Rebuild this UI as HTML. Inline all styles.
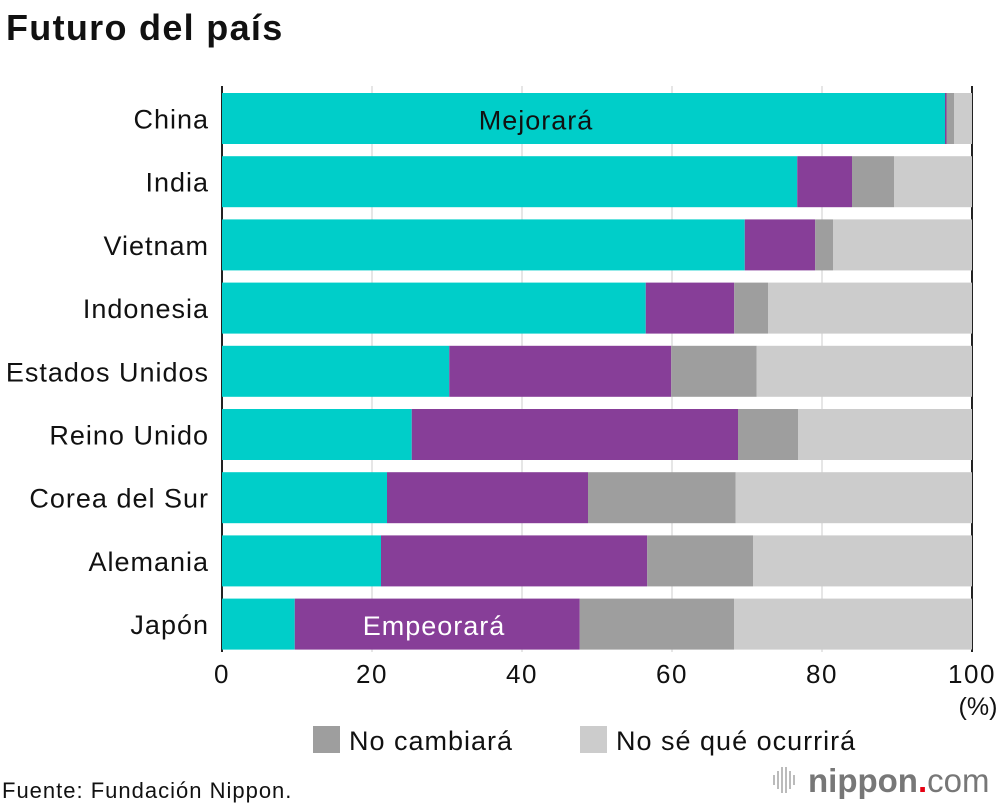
<!DOCTYPE html>
<html><head><meta charset="utf-8"><style>
body{margin:0;background:#fff;font-family:"Liberation Sans",sans-serif;}
#wrap{position:relative;width:1000px;height:810px;overflow:hidden;}
</style></head><body>
<div id="wrap">
<svg id="chart" width="1000" height="810"></svg>
</div>
<script>
const categories=["China","India","Vietnam","Indonesia","Estados Unidos","Reino Unido","Corea del Sur","Alemania","Japón"];
const mejorara=[96.4,76.7,69.7,56.5,30.3,25.3,22.0,21.2,9.7];
const empeorara=[0.2,7.3,9.4,11.8,29.6,43.5,26.8,35.5,38.0];
const noCambiara=[1.0,5.6,2.4,4.5,11.4,8.0,19.7,14.1,20.6];
const ticks=[0,20,40,60,80,100];
const colors=["#00cec9","#873e98","#9e9e9e","#cccccc"];
const NS="http://www.w3.org/2000/svg";
const svg=document.getElementById('chart');
const x0=222,x1=972,yTop=93,step=63.2,bh=51;
const xs=v=>x0+(x1-x0)*v/100;
const ys=i=>yTop+i*step;
function mk(t,a,txt){const e=document.createElementNS(NS,t);for(const k in a)e.setAttribute(k,a[k]);if(txt!==undefined)e.textContent=txt;svg.appendChild(e);return e;}
let e=mk('text',{x:6,y:40,'font-size':36,'font-weight':'bold',fill:'#111','letter-spacing':1.3},'Futuro del país');


ticks.forEach(t=>{
 let g=mk('line',{x1:xs(t),x2:xs(t),y1:86,y2:652,stroke:t===0||t===100?'#222':'#ccc','stroke-width':t===0||t===100?2:1});
 
 
 let l=mk('text',{x:xs(t),y:683,'font-size':26,'text-anchor':'middle',fill:'#111','letter-spacing':1.5},String(t));
 
 
});
e=mk('text',{x:978,y:715,'font-size':25,'text-anchor':'middle',fill:'#111'},'(%)');


categories.forEach((c,i)=>{
 const y=ys(i);
 const segs=[mejorara[i],empeorara[i],noCambiara[i],100-mejorara[i]-empeorara[i]-noCambiara[i]];
 let acc=0;
 segs.forEach((v,j)=>{
  const r=mk('rect',{x:xs(acc),y:y,width:xs(acc+v)-xs(acc),height:bh,fill:colors[j]});
  
  
  acc+=v;
 });
 const t=mk('text',{x:209,y:y+bh/2+10,'font-size':27,'text-anchor':'end',fill:'#111','letter-spacing':1},c);
 
 
});
e=mk('text',{x:536,y:ys(0)+bh/2+11,'font-size':27,'text-anchor':'middle',fill:'#111','letter-spacing':1},'Mejorará');


e=mk('text',{x:434,y:ys(8)+bh/2+11,'font-size':27,'text-anchor':'middle',fill:'#fff','letter-spacing':1},'Empeorará');


e=mk('rect',{x:313,y:726,width:27,height:27,fill:colors[2]});


e=mk('text',{x:349,y:750,'font-size':27,fill:'#111','letter-spacing':1},'No cambiará');


e=mk('rect',{x:580,y:726,width:27,height:27,fill:colors[3]});


e=mk('text',{x:616,y:750,'font-size':27,fill:'#111','letter-spacing':1},'No sé qué ocurrirá');


e=mk('text',{x:2,y:798,'font-size':22,fill:'#111','letter-spacing':1},'Fuente: Fundación Nippon.');


[0,4,8,12,16,20].forEach((d,k)=>{const h=[10,18,26,26,18,10][k];
 const b=mk('rect',{x:773+d,y:780-h/2,width:2,height:h,fill:'#bbb'});
 
 });
e=mk('text',{x:808,y:792,'font-size':33,fill:'#777'});


e.innerHTML='<tspan font-weight="bold">nippon</tspan><tspan fill="#e60012" font-weight="bold">.</tspan><tspan>com</tspan>';
</script>
</body></html>
